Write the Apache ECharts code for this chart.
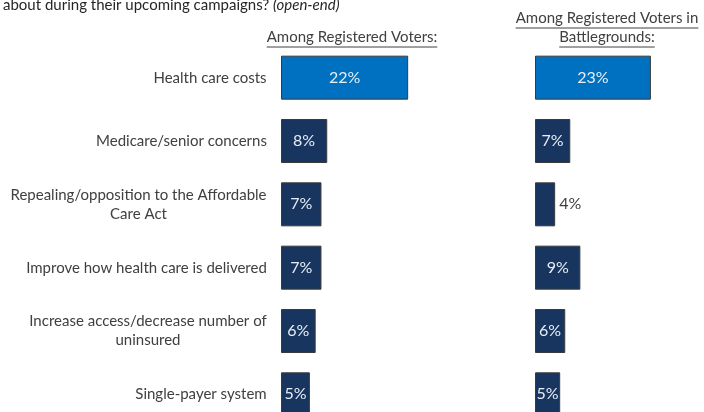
<!DOCTYPE html>
<html>
<head>
<meta charset="utf-8">
<script src="https://cdn.jsdelivr.net/npm/echarts@6/dist/echarts.min.js"></script>
<style>
  html, body { margin: 0; padding: 0; background: #fff; }
  #chart { width: 704px; height: 412px; }
</style>
</head>
<body>
<div id="chart"></div>
<script>
// categories (top to bottom)
const categories = [
  "Health care costs",
  "Medicare/senior concerns",
  "Repealing/opposition to the Affordable\nCare Act",
  "Improve how health care is delivered",
  "Increase access/decrease number of\nuninsured",
  "Single-payer system"
];
// among registered voters
const registeredVoters = [22, 8, 7, 7, 6, 5];
// among registered voters in battlegrounds
const battlegroundVoters = [23, 7, 4, 9, 6, 5];

const FONT = "Lato";
const TEXT_COLOR = "#404040";
const TOP_COLOR = "#0070C0";
const BAR_COLOR = "#17355E";
const LABEL_SIZE = 15;

// measure text so multi-line labels can be centered line by line
const ctx = document.createElement("canvas").getContext("2d");
const textWidth = (s, size) => {
  ctx.font = size + "px " + FONT;
  return ctx.measureText(s).width;
};

// rich styles: one per label, width = widest line, lines centered
const rich = {};
categories.forEach((c, i) => {
  const w = Math.max(...c.split("\n").map((l) => textWidth(l, LABEL_SIZE)));
  rich["r" + i] = { width: Math.ceil(w), align: "center", fontSize: LABEL_SIZE, fontFamily: FONT, color: TEXT_COLOR, lineHeight: 19 };
});

const barData = (vals) =>
  vals.map((v, i) => ({
    value: v,
    itemStyle: { color: i === 0 ? TOP_COLOR : BAR_COLOR },
    label: v < 5 ? { position: "right", color: TEXT_COLOR, distance: 4 } : {}
  }));

const barSeries = (vals, idx) => ({
  type: "bar",
  xAxisIndex: idx,
  yAxisIndex: idx,
  barWidth: 44,
  data: barData(vals),
  itemStyle: { borderColor: "#3a3a3a", borderWidth: 1 },
  label: {
    show: true,
    position: "inside",
    formatter: "{c}%",
    color: "#e8eef6",
    fontSize: 16,
    fontFamily: FONT
  },
  silent: true
});

const header = (lines, cx, y0) => {
  const els = [];
  lines.forEach((l, i) => {
    const y = y0 + i * 19;
    const w = textWidth(l, 15);
    els.push({
      type: "text",
      left: cx - w / 2,
      top: y,
      style: { text: l, fontSize: 15, fontFamily: FONT, fill: TEXT_COLOR }
    });
    els.push({
      type: "line",
      shape: { x1: cx - w / 2, y1: y + 17, x2: cx + w / 2, y2: y + 17 },
      style: { stroke: TEXT_COLOR, lineWidth: 1 }
    });
  });
  return els;
};

const chart = echarts.init(document.getElementById("chart"));

chart.setOption({
  animation: false,
  backgroundColor: "#fff",
  graphic: [
    {
      type: "text",
      left: 3,
      top: -2,
      style: {
        text: "about during their upcoming campaigns? {i|(open-end)}",
        fontSize: 15,
        fontFamily: FONT,
        fill: "#262626",
        rich: { i: { fontStyle: "italic", fontSize: 15, fontFamily: FONT, fill: "#262626" } }
      }
    },
    ...header(["Among Registered Voters:"], 352, 30),
    ...header(["Among Registered Voters in", "Battlegrounds:"], 607, 11)
  ],
  grid: [
    { left: 281, top: 46, width: 144.5, height: 380, outerBoundsMode: "none" },
    { left: 535, top: 46, width: 126, height: 380, outerBoundsMode: "none" }
  ],
  xAxis: [
    { gridIndex: 0, type: "value", min: 0, max: 25, show: false },
    { gridIndex: 1, type: "value", min: 0, max: 25, show: false }
  ],
  yAxis: [
    {
      gridIndex: 0,
      type: "category",
      inverse: true,
      data: categories,
      axisLine: { show: false },
      axisTick: { show: false },
      axisLabel: {
        margin: 14,
        align: "right",
        formatter: (v, i) => v.split("\n").map((l) => "{r" + i + "|" + l + "}").join("\n"),
        rich: rich
      }
    },
    {
      gridIndex: 1,
      type: "category",
      inverse: true,
      data: categories,
      show: false
    }
  ],
  series: [barSeries(registeredVoters, 0), barSeries(battlegroundVoters, 1)]
});
</script>
</body>
</html>
